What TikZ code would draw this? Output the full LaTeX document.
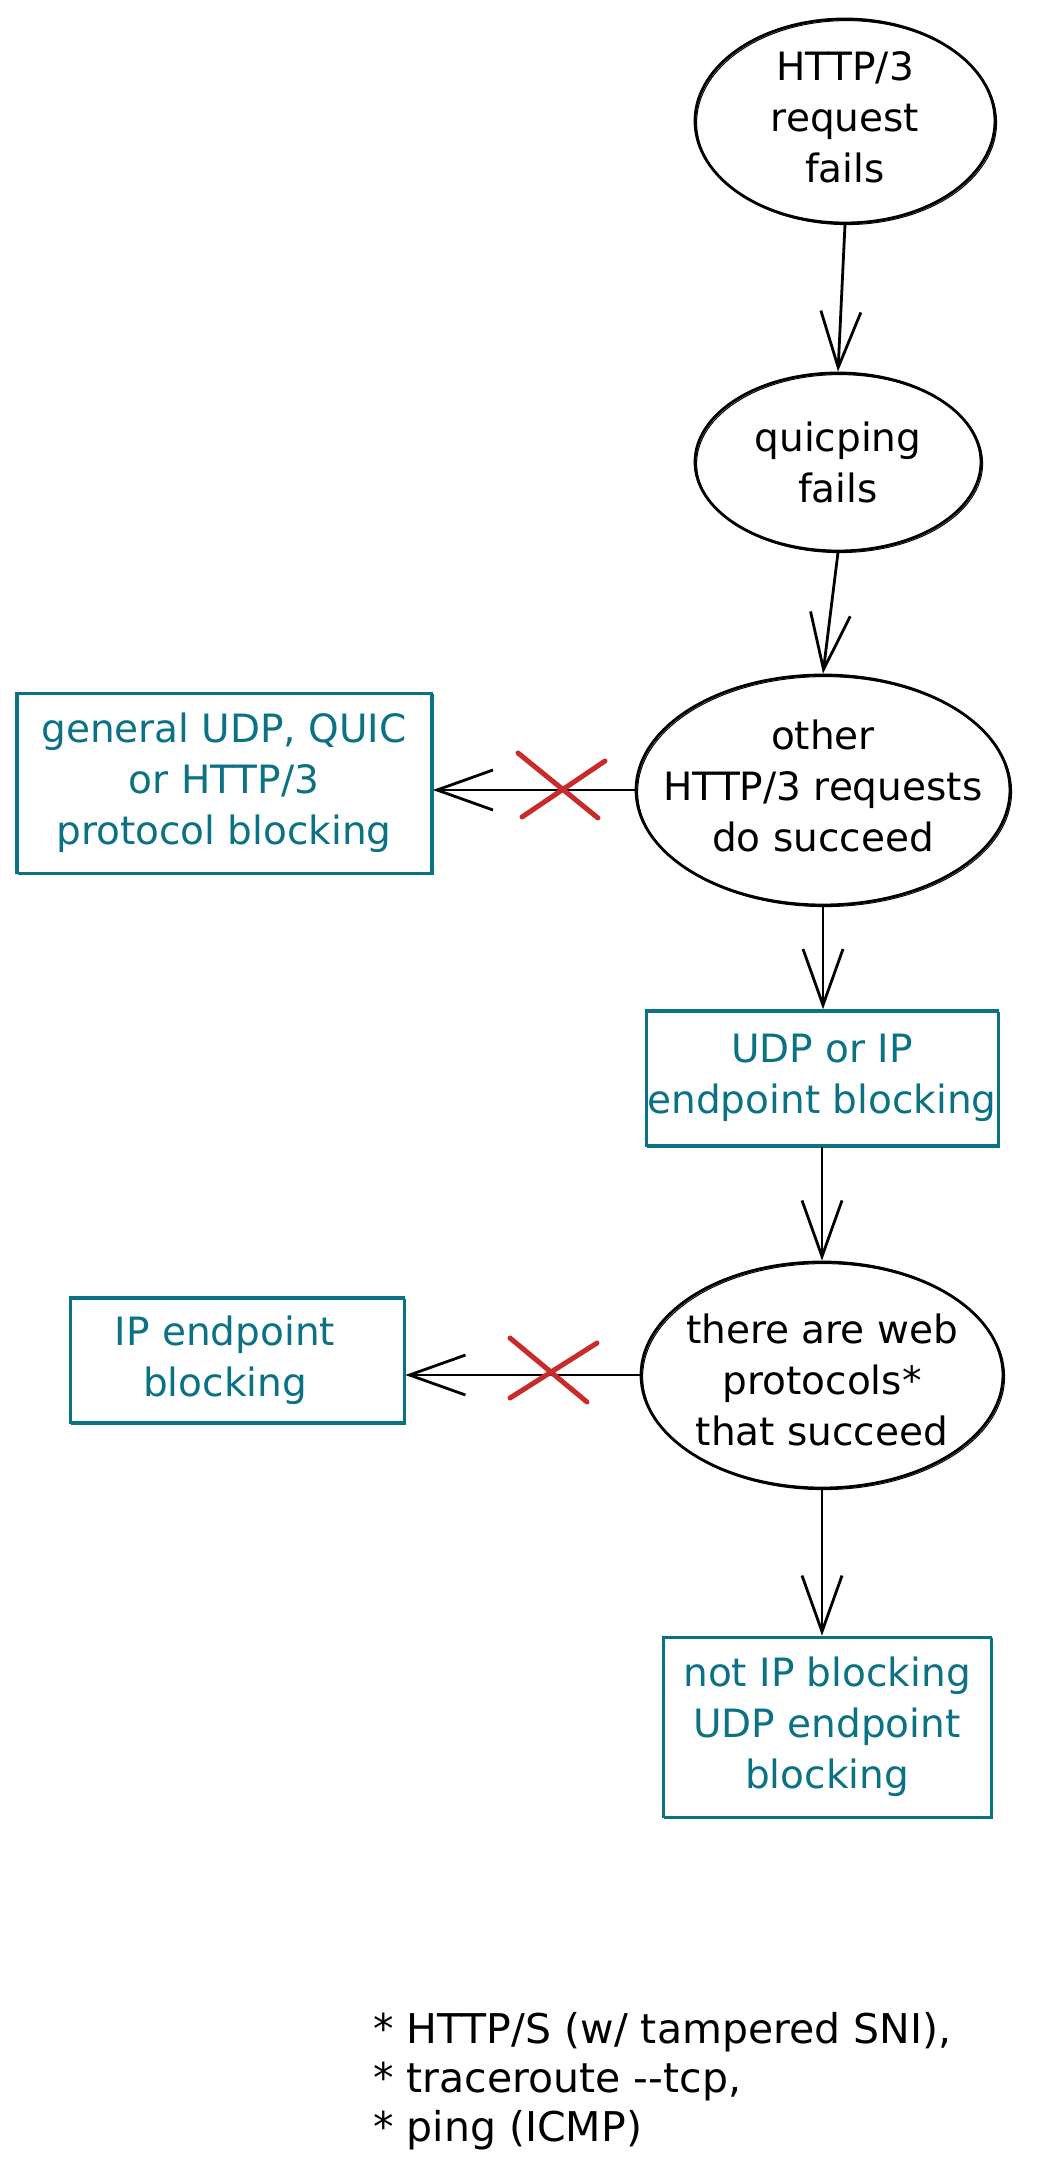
\documentclass[tikz,border=0pt]{standalone}
\usepackage{fontspec}
\setmainfont{DejaVu Sans}
\usetikzlibrary{shapes.geometric,arrows.meta}
\definecolor{tealnine}{HTML}{0B7285}
\definecolor{rednine}{HTML}{C92A2A}
\newcommand\bigfont{\fontsize{39pt}{51pt}\selectfont}
\newcommand\notefont{\fontsize{41pt}{49pt}\selectfont}
\begin{document}
\begin{tikzpicture}[x=1pt,y=-1pt,
  sketch/.style={postaction={draw, line width=1pt, transform canvas={shift={(1.6pt,-1.6pt)}}}},
  ell/.style={ellipse, draw=black, line width=2.8pt, inner sep=0pt, sketch},
  txt/.style={align=center, font=\bigfont, text=black, inner sep=0pt},
  box/.style={rectangle, draw=tealnine, line width=2.6pt, text=tealnine, align=center, font=\bigfont, inner sep=0pt, sketch},
  arr/.style={line width=2.8pt, -{Straight Barb[length=56pt,width=40pt]}},
  cross/.style={rednine, line width=5pt, line cap=round}]
\fill[white] (0,0) rectangle (1036,2183);
\useasboundingbox (0,0) rectangle (1036,2183);

\node[ell, minimum width=300pt, minimum height=204pt] (e1) at (845,121) {};
\node[txt] (t1) at (845,117) {HTTP/3\\request\\fails};
\node[ell, minimum width=286pt, minimum height=178pt] (e2) at (838,462) {};
\node[txt] (t2) at (838,462) {quicping\\fails};
\node[ell, minimum width=374pt, minimum height=230pt] (e3) at (823,790) {};
\node[txt] (t3) at (823,786) {other\\HTTP/3 requests\\do succeed};
\node[box, minimum width=415pt, minimum height=180pt] (b1) at (224,783) {general UDP, QUIC\\or HTTP/3\\protocol blocking};
\node[box, minimum width=352pt, minimum height=135pt] (b2) at (822,1078) {UDP or IP\\endpoint blocking};
\node[ell, minimum width=362pt, minimum height=226pt] (e4) at (822,1375) {};
\node[txt] (t4) at (822,1380) {there are web\\protocols*\\that succeed};
\node[box, minimum width=334pt, minimum height=125pt] (b3) at (237,1360) {};
\node[txt, text=tealnine] (t5) at (225,1360) {IP endpoint\\blocking};
\node[box, minimum width=328pt, minimum height=180pt] (b4) at (827,1727) {not IP blocking\\UDP endpoint\\blocking};
\node[txt, font=\notefont, align=left, anchor=north west] (fn) at (373,2012) {* HTTP/S (w/ tampered SNI),\\* traceroute -{}-tcp,\\* ping (ICMP)};

\draw[arr] (e1.south) -- (e2.north);
\draw[arr] (e2.south) -- (e3.north);
\draw[arr] (e3.west) -- (e3.west -| b1.east);
\draw[arr] (e3.south) -- (e3.south |- b2.north);
\draw[arr] (b2.south) -- (b2.south |- e4.north);
\draw[arr] (e4.west) -- (e4.west -| b3.east);
\draw[arr] (e4.south) -- (e4.south |- b4.north);

\coordinate (x1) at (561,787);
\draw[cross] ([shift={(-43,-34)}]x1) -- ([shift={(37,31)}]x1);
\draw[cross] ([shift={(-39,30)}]x1) -- ([shift={(44,-26)}]x1);
\coordinate (x2) at (551,1370);
\draw[cross] ([shift={(-41,-32)}]x2) -- ([shift={(36,32)}]x2);
\draw[cross] ([shift={(-41,28)}]x2) -- ([shift={(46,-27)}]x2);
\end{tikzpicture}
\end{document}
